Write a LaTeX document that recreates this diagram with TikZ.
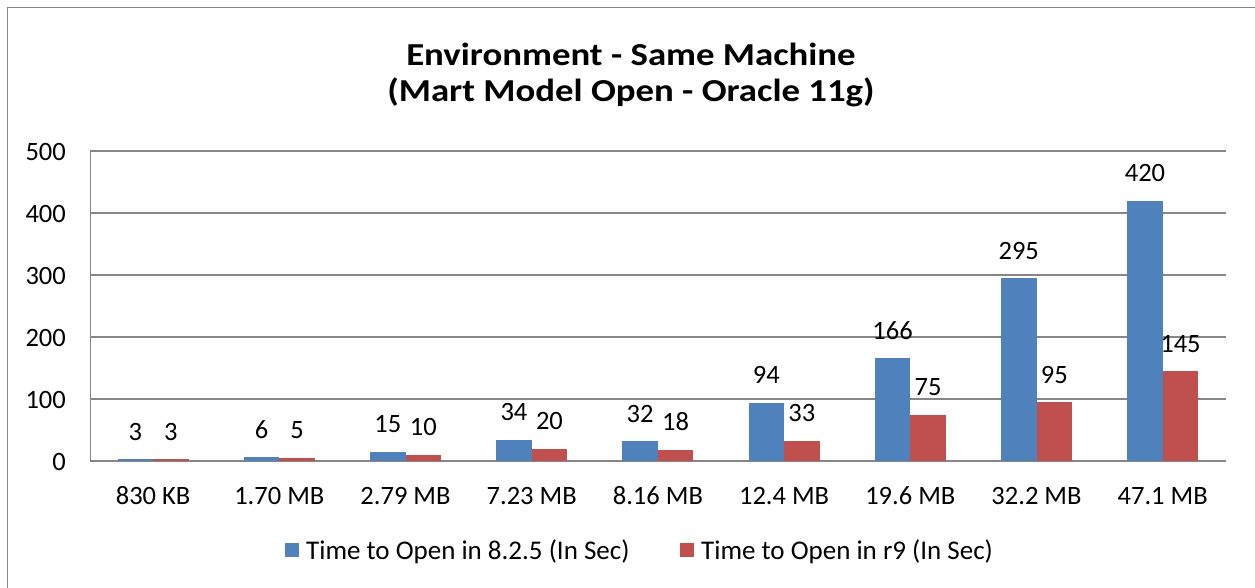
\documentclass[tikz,border=0pt]{standalone}
\usepackage{fontspec}
\setmainfont{Carlito}
\definecolor{serA}{HTML}{4F81BD}
\definecolor{serB}{HTML}{C0504D}
\definecolor{gridc}{HTML}{868686}
\begin{document}
\begin{tikzpicture}[x=1pt,y=-1pt,
  lbl/.style={inner sep=0pt,anchor=base,font=\fontsize{26.5}{30}\selectfont},
  leglbl/.style={inner sep=0pt,anchor=base west,font=\fontsize{27}{30}\selectfont},
  ticklbl/.style={inner sep=0pt,anchor=base east,font=\fontsize{26.5}{30}\selectfont},
  titlelbl/.style={inner sep=0pt,anchor=base,font=\bfseries\fontsize{32}{36}\selectfont},
  gridline/.style={draw=gridc,line width=1.5pt},
  frame/.style={draw=gridc,line width=1.5pt}]
\useasboundingbox (0,0) rectangle (1255,587);
\fill[white] (0,0) rectangle (1255,587);
% outer frame (only top and left visible)
\draw[frame] (7.5,600) -- (7.5,7.5) -- (1260,7.5);
% title
\node[titlelbl] (t1) at (631,65) {\scalebox{1.15}[1]{Environment - Same Machine}};
\node[titlelbl] (t2) at (631,101) {\scalebox{1.15}[1]{(Mart Model Open - Oracle 11g)}};
% gridlines and y labels
\foreach \v in {0,100,...,500}{
  \draw[gridline] (90,{461-0.62*\v}) -- (1226,{461-0.62*\v});
  \node[ticklbl] (y\v) at (66,{461-0.62*\v+9}) {\v};
}
\draw[gridline] (90.5,151) -- (90.5,461);
% bars
\foreach \i/\a/\b/\c in {0/3/3/830 KB,1/6/5/1.70 MB,2/15/10/2.79 MB,3/34/20/7.23 MB,4/32/18/8.16 MB,5/94/33/12.4 MB,6/166/75/19.6 MB,7/295/95/32.2 MB,8/420/145/47.1 MB}{
  \pgfmathsetmacro{\cx}{90+126.2*(\i+0.5)}
  \fill[serA] ({\cx-35.5},461) rectangle (\cx,{461-0.62*\a});
  \fill[serB] (\cx,461) rectangle ({\cx+35.5},{461-0.62*\b});
  \node[lbl] (la\i) at ({\cx-17.75},{461-0.62*\a-19}) {\a};
  \node[lbl] (lb\i) at ({\cx+17.75},{461-0.62*\b-19}) {\b};
  \node[lbl] (cat\i) at (\cx,504) {\c};
}
% legend
\fill[serA] (285,543) rectangle (299,557);
\node[leglbl] (leg1) at (306,559) {Time to Open in 8.2.5 (In Sec)};
\fill[serB] (680,543) rectangle (694,557);
\node[leglbl] (leg2) at (701,559) {Time to Open in r9 (In Sec)};
\end{tikzpicture}
\end{document}
